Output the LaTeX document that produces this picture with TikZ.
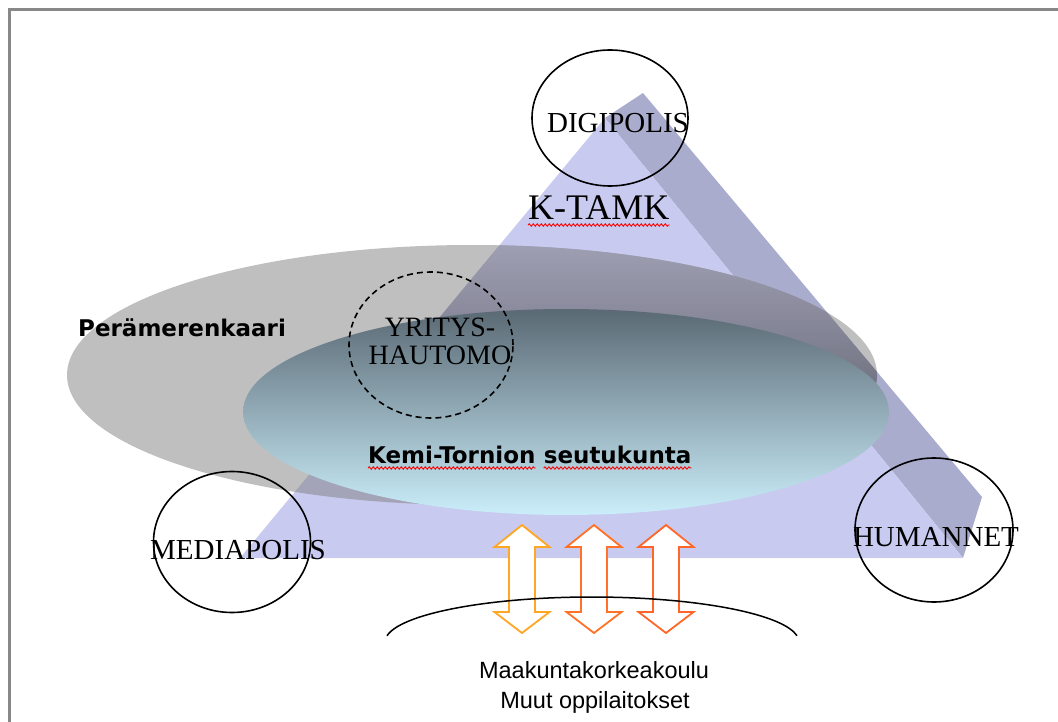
\documentclass[tikz,border=0pt]{standalone}
\usepackage{fontspec}
\setmainfont{Liberation Serif}
\newfontfamily\heavysans{DejaVu Sans}
\newfontfamily\plainsans{Liberation Sans}
\usetikzlibrary{shapes.geometric,decorations.pathmorphing}
\definecolor{frontface}{RGB}{200,202,240}
\definecolor{sideface}{RGB}{170,172,206}
\definecolor{regiongray}{RGB}{128,128,128}
\definecolor{shadeTop}{RGB}{160,160,180}
\definecolor{shadeBot}{RGB}{104,106,120}
\definecolor{blueTop}{RGB}{90,105,116}
\definecolor{blueMid}{RGB}{148,176,194}
\definecolor{blueBot}{RGB}{202,238,250}
\definecolor{arrowA}{RGB}{255,166,36}
\definecolor{arrowB}{RGB}{255,114,40}
\definecolor{arrowC}{RGB}{255,102,40}
\definecolor{framegray}{RGB}{136,136,136}
\tikzset{
  ring/.style={draw=black, line width=1.6pt, ellipse, inner sep=0pt},
  dashring/.style={ring, dash pattern=on 6pt off 4pt},
  serlbl/.style={inner sep=0pt, font=\fontsize{29}{34}\selectfont},
  boldlbl/.style={inner sep=0pt, font=\heavysans\bfseries\fontsize{23}{27}\selectfont},
  sanslbl/.style={inner sep=0pt, font=\plainsans\fontsize{23.5}{28}\selectfont},
  squig/.style={draw=red, line width=0.9pt, decorate, decoration={snake, segment length=4pt, amplitude=1.2pt}},
  dblarr/.pic={\path[pic actions] (0,-54) -- (27.5,-32) -- (13,-32) -- (13,33) -- (27.5,33) -- (0,54) -- (-27.5,33) -- (-13,33) -- (-13,-32) -- (-27.5,-32) -- cycle;},
  arrowstyle/.style={draw=#1, fill=white, line width=1.8pt, line join=miter}
}
\begin{document}
\begin{tikzpicture}[x=1pt,y=-1pt]
\useasboundingbox (0,0) rectangle (1058,722);
% frame
\coordinate (fBL) at (9,722);
\coordinate (fTL) at (9,10);
\coordinate (fTR) at (1058,10);
\draw[framegray, line width=3pt] (fBL) -- (fTL) -- (fTR);
% pyramid
\fill[sideface] (643,93) -- (982,497) -- (963,558) -- (605,118) -- cycle;
\fill[frontface] (605,118) -- (240,558) -- (963,558) -- cycle;
% Peramerenkaari region
\fill[regiongray, fill opacity=0.5] (472,375) ellipse[x radius=405, y radius=130];
\begin{scope}
  \clip (643,93) -- (982,497) -- (963,558) -- (240,558) -- (605,118) -- cycle;
  \clip (472,375) ellipse[x radius=405, y radius=130];
  \shade[top color=shadeTop, bottom color=shadeBot] (200,240) rectangle (1000,420);
\end{scope}
% Kemi-Tornio region
\shade[top color=blueTop, middle color=blueMid, bottom color=blueBot] (566,412) ellipse[x radius=323, y radius=103];
% circles
\node[ring, minimum width=156pt, minimum height=136pt] (digi) at (610,118) {};
\node[dashring, minimum width=164pt, minimum height=146pt] (yrit) at (431,345) {};
\node[ring, minimum width=157pt, minimum height=141pt] (media) at (232,542) {};
\node[ring, minimum width=158pt, minimum height=144pt] (human) at (934,530) {};
% labels
\node[serlbl] (digitext) at (618,123) {DIGIPOLIS};
\node[serlbl] (mediatext) at (238,550) {MEDIAPOLIS};
\node[serlbl] (humantext) at (936,537) {HUMANNET};
\node[inner sep=0pt, align=center, font=\fontsize{28}{28}\selectfont] (yrittext) at (440,341) {YRITYS-\\HAUTOMO};
\node[inner sep=0pt, anchor=base west, font=\fontsize{36}{40}\selectfont] (ktamk) at (528,220) {K-TAMK};
\draw[squig] ([yshift=-5pt]ktamk.base west) -- ([yshift=-5pt]ktamk.base east);
\node[boldlbl, anchor=base west] (pera) at (78,336) {Perämerenkaari};
\node[boldlbl, anchor=base west] (kemi) at (368,463) {Kemi-Tornion};
\node[boldlbl, anchor=base west] (seutu) at ([xshift=8pt]kemi.base east) {seutukunta};
\draw[squig] ([yshift=-5pt]kemi.base west) -- ([yshift=-5pt]kemi.base east);
\draw[squig] ([yshift=-5pt]seutu.base west) -- ([yshift=-5pt]seutu.base east);
% arrows
\pic[arrowstyle=arrowA] (arr1) at (522,579) {dblarr};
\pic[arrowstyle=arrowB] (arr2) at (594,579) {dblarr};
\pic[arrowstyle=arrowC] (arr3) at (666,579) {dblarr};
% base arc
\coordinate (arcL) at (387.02,635.74);
\draw[line width=1.5pt] (arcL) arc[start angle=188, end angle=352, x radius=207, y radius=45];
% bottom text
\node[sanslbl, anchor=base] (maak) at (594,678) {Maakuntakorkeakoulu};
\node[sanslbl, anchor=base] (muut) at (595,708) {Muut oppilaitokset};
\end{tikzpicture}
\end{document}
